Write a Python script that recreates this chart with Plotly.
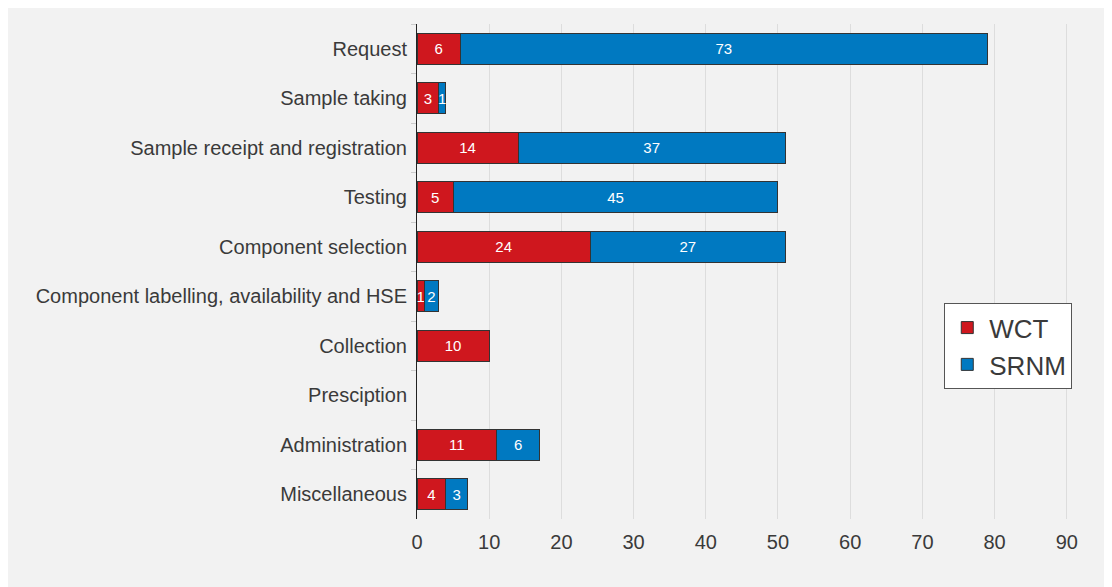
import plotly.graph_objects as go

categories = [
    "Request", "Sample taking", "Sample receipt and registration", "Testing",
    "Component selection", "Component labelling, availability and HSE",
    "Collection", "Presciption", "Administration", "Miscellaneous",
]
wct = [6, 3, 14, 5, 24, 1, 10, 0, 11, 4]
srnm = [73, 1, 37, 45, 27, 2, 0, 0, 6, 3]

colors = {"WCT": "#cf171e", "SRNM": "#0079c1"}

fig = go.Figure()
for name, vals in [("WCT", wct), ("SRNM", srnm)]:
    # zero values are left out so no empty outline gets drawn
    xs = [v if v else None for v in vals]
    fig.add_trace(go.Bar(
        name=name, y=categories, x=xs, orientation="h",
        marker=dict(color=colors[name], line=dict(color="#333333", width=1)),
        text=[str(v) if v else "" for v in vals],
        textposition="inside", insidetextanchor="middle",
        textangle=0, constraintext="none",
        textfont=dict(color="white", size=15, family="Liberation Sans"),
    ))

fig.update_layout(
    barmode="stack", bargap=0.37,
    width=1101, height=579,
    margin=dict(l=409, r=9, t=16, b=68),
    paper_bgcolor="#f2f2f2", plot_bgcolor="#f2f2f2",
    font=dict(family="Liberation Sans", color="#3a3a3a", size=20),
    legend=dict(
        x=0.772, y=0.436, xanchor="left", yanchor="top",
        traceorder="normal",
        bgcolor="white", bordercolor="#555555", borderwidth=1,
        font=dict(size=26), itemwidth=34,
    ),
    xaxis=dict(
        range=[0, 94.6], dtick=10, showgrid=True, gridcolor="#dddddd",
        zeroline=False, showline=False, ticks="",
        tickfont=dict(size=20), ticklabelstandoff=9,
    ),
    yaxis=dict(
        autorange="reversed", showline=True, linecolor="#222222", linewidth=1,
        ticks="outside", tickson="boundaries", ticklen=5, tickcolor="#cccccc",
        tickfont=dict(size=20), ticklabelstandoff=5,
        showgrid=False, zeroline=False,
    ),
)

fig.write_html("out.html")
